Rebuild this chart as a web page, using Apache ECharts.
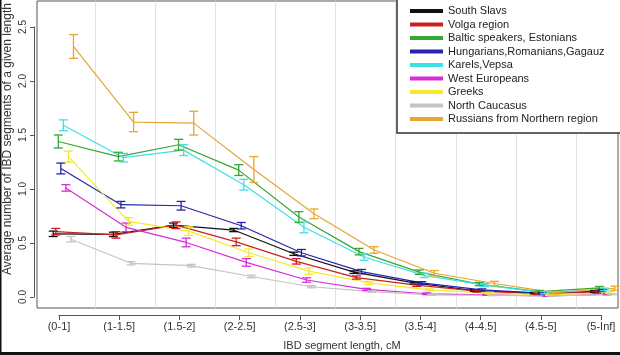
<!DOCTYPE html>
<html>
<head>
<meta charset="utf-8">
<script src="https://cdn.jsdelivr.net/npm/echarts@6/dist/echarts.min.js"></script>
<style>
html,body{margin:0;padding:0;background:#fff;}
#chart{width:620px;height:355px;}
</style>
</head>
<body>
<div id="chart"></div>
<script>
// ---- data ----
const categories = ['(0-1]','(1-1.5]','(1.5-2]','(2-2.5]','(2.5-3]','(3-3.5]','(3.5-4]','(4-4.5]','(4.5-5]','(5-Inf]'];
const yTicks = [0, 0.5, 1.0, 1.5, 2.0, 2.5];
const seriesNames = ['South Slavs','Volga region','Baltic speakers, Estonians','Hungarians,Romanians,Gagauz','Karels,Vepsa','West Europeans','Greeks','North Caucasus','Russians from Northern region'];

const southSlavs   = [0.585, 0.58, 0.665, 0.62, 0.40, 0.23, 0.13, 0.06, 0.035, 0.05];
const volga        = [0.605, 0.575, 0.665, 0.51, 0.33, 0.18, 0.11, 0.055, 0.03, 0.045];
const baltic       = [1.44, 1.30, 1.41, 1.175, 0.74, 0.42, 0.23, 0.12, 0.05, 0.085];
const hungarians   = [1.19, 0.855, 0.845, 0.66, 0.41, 0.235, 0.13, 0.065, 0.035, 0.06];
const karels       = [1.59, 1.29, 1.36, 1.04, 0.645, 0.37, 0.20, 0.11, 0.04, 0.07];
const westEuro     = [1.01, 0.645, 0.505, 0.32, 0.157, 0.07, 0.03, 0.02, 0.01, 0.025];
const greeks       = [1.30, 0.70, 0.61, 0.41, 0.24, 0.13, 0.065, 0.035, 0.02, 0.04];
const northCauc    = [0.535, 0.312, 0.29, 0.19, 0.095, 0.05, 0.02, 0.015, 0.01, 0.025];
const russiansN    = [2.32, 1.62, 1.61, 1.18, 0.77, 0.435, 0.22, 0.125, 0.04, 0.08];

const southSlavsErr = [0.025,0.02,0.02,0.015,0.015,0.012,0.01,0.008,0.006,0.008];
const volgaErr      = [0.03,0.03,0.03,0.035,0.025,0.015,0.012,0.01,0.008,0.01];
const balticErr     = [0.06,0.04,0.05,0.05,0.05,0.03,0.02,0.015,0.01,0.012];
const hungariansErr = [0.05,0.03,0.04,0.03,0.03,0.02,0.012,0.01,0.008,0.01];
const karelsErr     = [0.05,0.04,0.05,0.05,0.05,0.03,0.02,0.015,0.01,0.012];
const westEuroErr   = [0.03,0.04,0.04,0.035,0.02,0.01,0.008,0.005,0.004,0.005];
const greeksErr     = [0.05,0.035,0.04,0.035,0.03,0.015,0.01,0.008,0.006,0.008];
const northCaucErr  = [0.025,0.015,0.012,0.012,0.01,0.006,0.004,0.003,0.003,0.004];
const russiansNErr  = [0.11,0.09,0.11,0.12,0.045,0.03,0.025,0.02,0.012,0.02];

// ---- styling ----
const colors = ['#111111','#cc1f1f','#33a833','#2424b0','#3ce0e6','#d82cd8','#f2ea2a','#c4c4c4','#e6a632'];
const dodge = [-0.1, -0.058, -0.016, 0.026, 0.068, 0.11, 0.152, 0.194, 0.236];

const values = [southSlavs, volga, baltic, hungarians, karels, westEuro, greeks, northCauc, russiansN];
const errors = [southSlavsErr, volgaErr, balticErr, hungariansErr, karelsErr, westEuroErr, greeksErr, northCaucErr, russiansNErr];

const chart = echarts.init(document.getElementById('chart'), null, {renderer:'canvas'});

const series = [];
values.forEach((vals, s) => {
  series.push({
    name: seriesNames[s], type: 'line', xAxisIndex: 0, yAxisIndex: 0,
    data: vals.map((v, i) => [i + dodge[s], v]),
    symbol: 'none', color: colors[s],
    lineStyle: {width: 1.2, color: colors[s]},
    silent: true, animation: false, z: 2
  });
});
values.forEach((vals, s) => {
  series.push({
    name: seriesNames[s], type: 'custom', xAxisIndex: 0, yAxisIndex: 0,
    data: vals.map((v, i) => [i + dodge[s], v - errors[s][i], v + errors[s][i]]),
    encode: {x: 0, y: [1, 2]},
    color: colors[s], silent: true, animation: false, z: 3,
    renderItem: function (params, api) {
      const x = api.value(0);
      const lo = api.coord([x, api.value(1)]);
      const hi = api.coord([x, api.value(2)]);
      const cw = 4.5;
      const st = {stroke: colors[s], lineWidth: 1.3, fill: null};
      return {type: 'group', children: [
        {type: 'line', shape: {x1: lo[0], y1: lo[1], x2: hi[0], y2: hi[1]}, style: st},
        {type: 'line', shape: {x1: hi[0]-cw, y1: hi[1], x2: hi[0]+cw, y2: hi[1]}, style: st},
        {type: 'line', shape: {x1: lo[0]-cw, y1: lo[1], x2: lo[0]+cw, y2: lo[1]}, style: st}
      ]};
    }
  });
});

const option = {
  backgroundColor: '#ffffff',
  animation: false,
  grid: [
    {left: 37, right: 2, top: 1, bottom: 47, show: true, borderColor: '#555', borderWidth: 1, backgroundColor: 'transparent'},
    {left: 59, right: 19, top: 314, height: 1},
    {left: 34, width: 1, top: 27, bottom: 58},
    {left: 95, right: 44, top: 1, bottom: 47}
  ],
  xAxis: [
    {gridIndex: 0, type: 'value', min: -0.37, max: 9.29, show: false},
    {gridIndex: 1, type: 'value', min: 0, max: categories.length - 1, interval: 1,
     axisLine: {show: true, lineStyle: {color: '#555', width: 1}},
     axisTick: {show: true, length: 5, lineStyle: {color: '#555'}},
     splitLine: {show: false},
     axisLabel: {show: true, margin: 6, fontSize: 11, color: '#333', fontFamily: 'Liberation Sans, Arial, sans-serif',
       showMinLabel: true, showMaxLabel: true,
       formatter: v => categories[Math.round(v)]}},
    {gridIndex: 2, type: 'value', show: false},
    {gridIndex: 3, type: 'value', min: 0, max: 8, interval: 1,
     axisLine: {show: false}, axisTick: {show: false}, axisLabel: {show: false},
     splitLine: {show: true, lineStyle: {color: '#e2e2e2', width: 1}}}
  ],
  yAxis: [
    {gridIndex: 0, type: 'value', min: -0.102, max: 2.741, show: false, splitLine: {show: false}},
    {gridIndex: 1, type: 'value', show: false},
    {gridIndex: 2, type: 'value', min: yTicks[0], max: yTicks[yTicks.length - 1], interval: 0.5,
     axisLine: {show: true, lineStyle: {color: '#555', width: 1}},
     axisTick: {show: true, length: 4, lineStyle: {color: '#555'}},
     splitLine: {show: false},
     axisLabel: {show: true, rotate: 90, margin: 6, fontSize: 10, color: '#333', fontFamily: 'Liberation Sans, Arial, sans-serif',
       formatter: v => v.toFixed(1)}},
    {gridIndex: 3, type: 'value', show: false}
  ],
  legend: {
    data: seriesNames, orient: 'vertical', left: 397, top: -1,
    icon: 'rect', itemWidth: 33, itemHeight: 4, itemGap: 1.5,
    padding: [6, 30, 8, 13],
    backgroundColor: '#ffffff', borderColor: '#333', borderWidth: 1.5,
    textStyle: {fontSize: 11, color: '#222', fontFamily: 'Liberation Sans, Arial, sans-serif', lineHeight: 12, padding: [0,0,0,0]},
    selectedMode: false, z: 10
  },
  graphic: [
    {type: 'text', x: 8, y: 139, rotation: Math.PI / 2, z: 10,
     style: {text: 'Average number of IBD segments of a given length', fontSize: 12, fill: '#333',
       fontFamily: 'Liberation Sans, Arial, sans-serif', textAlign: 'center', textVerticalAlign: 'middle'}},
    {type: 'text', x: 342, y: 346, z: 10,
     style: {text: 'IBD segment length, cM', fontSize: 11, fill: '#333',
       fontFamily: 'Liberation Sans, Arial, sans-serif', textAlign: 'center', textVerticalAlign: 'middle'}},
    {type: 'rect', shape: {x: 0, y: 0, width: 1.5, height: 355}, style: {fill: '#111'}, z: 20},
    {type: 'rect', shape: {x: 0, y: 352, width: 620, height: 3}, style: {fill: '#111'}, z: 20}
  ],
  series: series
};
chart.setOption(option);
</script>
</body>
</html>
